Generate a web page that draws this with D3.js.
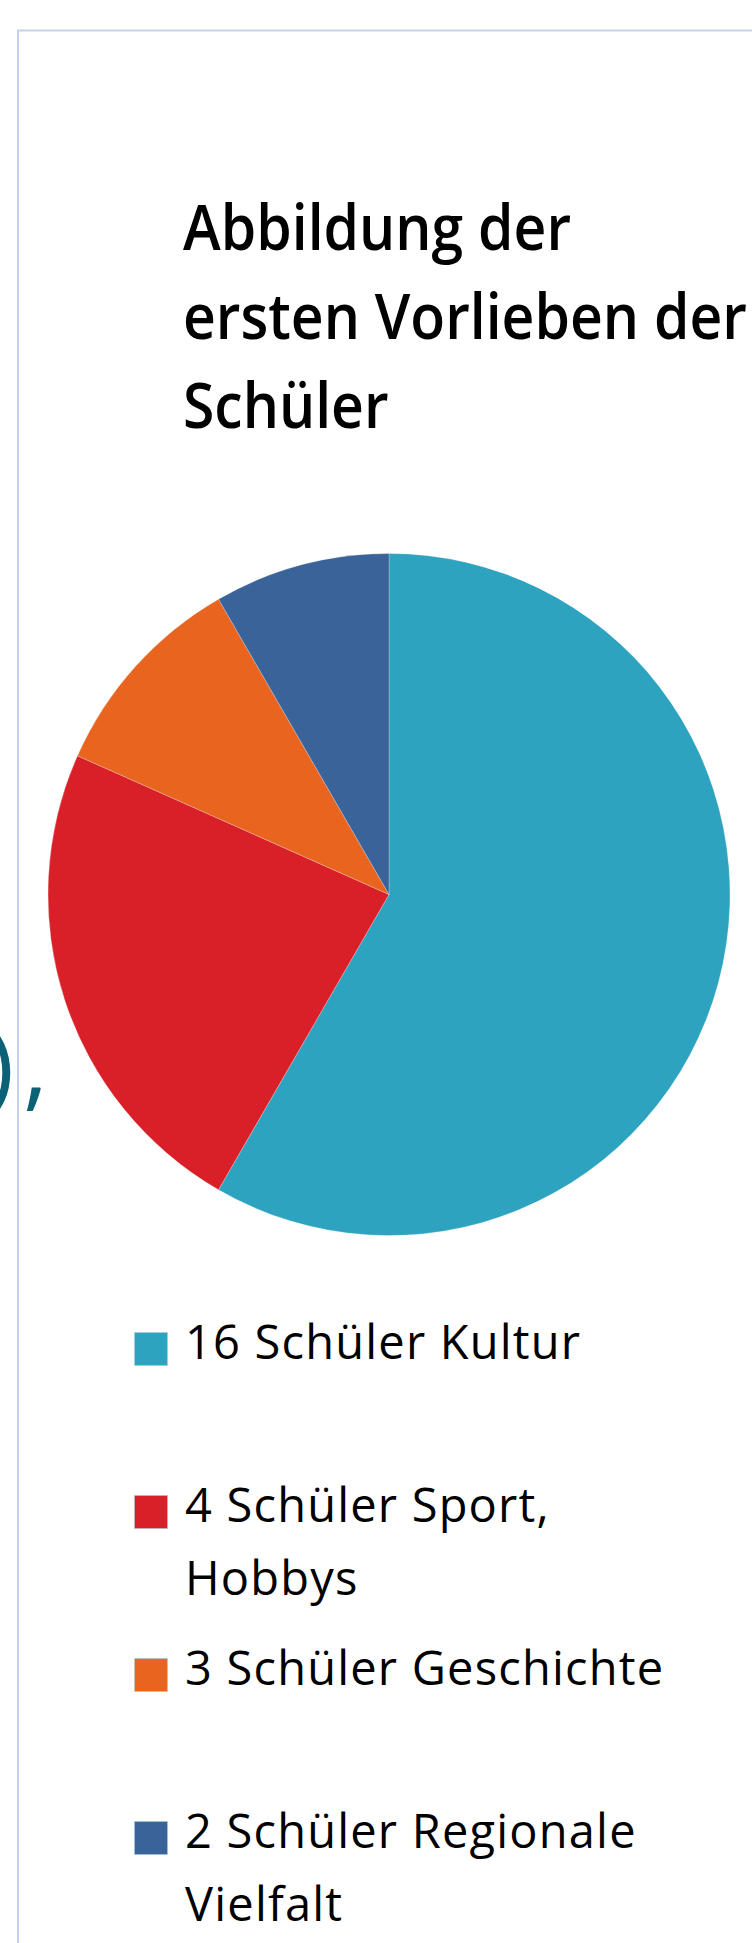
<!DOCTYPE html>
<html>
<head>
<meta charset="utf-8">
<script src="https://cdn.jsdelivr.net/npm/d3@7"></script>
<style>
  body { margin: 0; background: #fff; }
  svg { display: block; }
</style>
</head>
<body>
<div id="chart"></div>
<script>
// --- données ---
const titleLines = ["Abbildung der", "ersten Vorlieben der", "Schüler"];
const categories = ["Kultur", "Sport, Hobbys", "Geschichte", "Regionale Vielfalt"];
// parts des secteurs (angles ~210°, 84°, 36°, 30°)
const sliceValues = [35, 14, 6, 5];
// texte de légende (ligne par ligne)
const legendLabels = [
  ["16 Schüler Kultur"],
  ["4 Schüler Sport,", "Hobbys"],
  ["3 Schüler Geschichte"],
  ["2 Schüler Regionale", "Vielfalt"]
];
const colors = ["#2ea3bf", "#d92029", "#e8641f", "#3a6499"];

// --- mise en page ---
const W = 752, H = 1943;
const cx = 389, cy = 894.5, R = 341;

const svg = d3.select("#chart").append("svg")
  .attr("width", W).attr("height", H);

// cadre bleu clair (coupé à droite et en bas)
svg.append("rect")
  .attr("x", 18).attr("y", 30.5)
  .attr("width", 800).attr("height", 2000)
  .attr("fill", "none").attr("stroke", "#c2d3ec").attr("stroke-width", 2);

// reste de texte de la page à gauche : ")" coupée puis ","
const bits = [{ t: ")", x: 14, anchor: "end" }, { t: ",", x: 23, anchor: "start" }];
svg.selectAll("text.bit").data(bits).enter().append("text")
  .attr("class", "bit")
  .attr("x", d => d.x).attr("y", 1099)
  .attr("text-anchor", d => d.anchor)
  .style("font-family", "'Open Sans', sans-serif")
  .style("font-weight", 400).style("font-size", "96px")
  .style("fill", "#0b6176")
  .text(d => d.t);

// titre
const title = svg.append("g");
const tLines = title.selectAll("text").data(titleLines).enter().append("text")
  .attr("x", 0).attr("y", 0)
  .style("font-family", "'Open Sans', sans-serif")
  .style("font-weight", 600).style("font-size", "63px")
  .style("fill", "#000")
  .text(d => d);
const natW = tLines.nodes()[1].getComputedTextLength();
const sx = 564 / natW;
tLines.attr("transform", (d, i) => `translate(183,${250 + i * 89}) scale(${sx},1)`);

// camembert
const pie = d3.pie().sort(null).value(d => d);
const arc = d3.arc().innerRadius(0).outerRadius(R);
svg.append("g").attr("transform", `translate(${cx},${cy})`)
  .selectAll("path").data(pie(sliceValues)).enter().append("path")
  .attr("d", arc)
  .attr("fill", (d, i) => colors[i])
  .attr("stroke", "#fff").attr("stroke-width", 0.4).attr("stroke-opacity", 0.6);

// légende
const legend = svg.append("g");
const items = legend.selectAll("g").data(legendLabels).enter().append("g")
  .attr("transform", (d, i) => `translate(134,${1332 + i * 163})`);
items.append("rect")
  .attr("x", 0.5).attr("y", 0.5).attr("width", 33).attr("height", 33)
  .attr("fill", (d, i) => colors[i])
  .attr("stroke", "#9fd0e0").attr("stroke-width", 1).attr("stroke-opacity", 0.5);
items.each(function(lines) {
  const t = d3.select(this).append("text")
    .style("font-family", "'Open Sans', sans-serif")
    .style("font-size", "47px").style("fill", "#000")
    .style("letter-spacing", "1.2px");
  lines.forEach((l, j) => {
    t.append("tspan").attr("x", 51).attr("y", 27 + j * 73).text(l);
  });
});
</script>
</body>
</html>
